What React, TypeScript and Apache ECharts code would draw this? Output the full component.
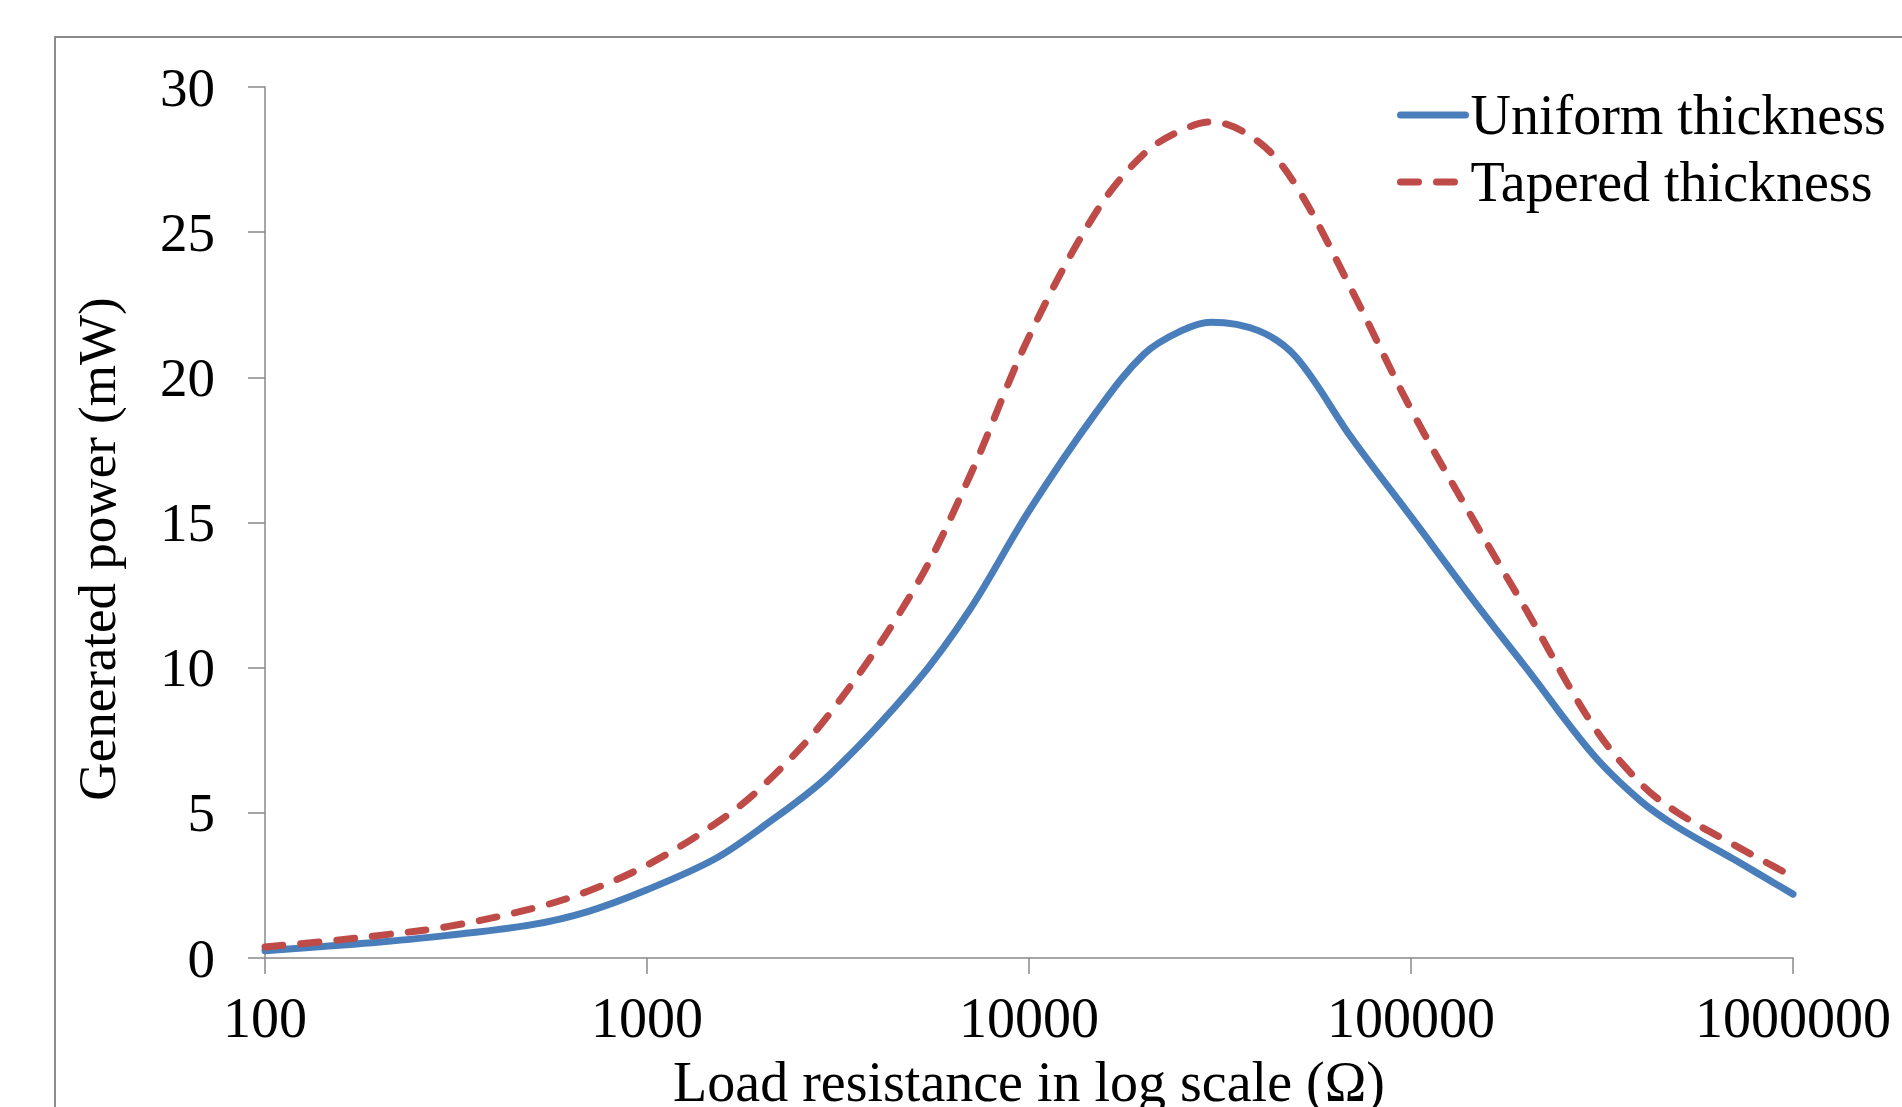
import React, { useEffect, useRef } from "react";
import * as echarts from "echarts";

// Load resistance (Ω)
const resistance = [
  100, 150, 200, 300, 500, 700, 1000, 1500, 2000, 3000, 5000, 7000, 10000, 15000,
  20000, 25000, 30000, 40000, 50000, 70000, 100000, 150000, 200000, 300000, 400000,
  500000, 700000, 1000000,
];
// Generated power (mW)
const uniformPower = [
  0.25, 0.42, 0.55, 0.78, 1.15, 1.6, 2.35, 3.4, 4.5, 6.3, 9.4, 12.0, 15.4, 18.8,
  20.8, 21.6, 21.9, 21.6, 20.7, 17.9, 15.2, 12.1, 10.0, 7.0, 5.4, 4.5, 3.4, 2.2,
];
const taperedPower = [
  0.38, 0.6, 0.78, 1.08, 1.7, 2.3, 3.2, 4.6, 5.9, 8.4, 12.7, 16.6, 21.4, 25.7,
  27.7, 28.5, 28.8, 28.1, 26.6, 23.0, 18.9, 14.8, 12.0, 8.0, 6.0, 5.0, 3.9, 2.8,
];
const seriesNames = ["Uniform thickness", "Tapered thickness"];
const xTickLabels = ["100", "1000", "10000", "100000", "1000000"];
const xAxisTitle = "Load resistance in log scale (Ω)";
const yAxisTitle = "Generated power (mW)";

const FONT = "'Liberation Serif', 'Times New Roman', serif";
const AXIS_COLOR = "#898989";

export default function App() {
  const ref = useRef<HTMLDivElement>(null);

  useEffect(() => {
    document.body.style.margin = "0";
    document.body.style.overflow = "hidden";
    if (!ref.current) return;
    const chart = echarts.init(ref.current, undefined, { renderer: "svg" });
    const option: any = {
      animation: false,
      backgroundColor: "#ffffff",
      textStyle: { fontFamily: FONT },
      grid: {
        left: 265,
        right: 109,
        top: 87,
        bottom: 149,
        containLabel: false,
        outerBoundsMode: "none",
      },
      legend: {
        orient: "vertical",
        left: 1397,
        top: 87,
        padding: 0,
        itemWidth: 65,
        itemHeight: 14,
        itemGap: 11,
        itemStyle: { opacity: 0 },
        lineStyle: { width: 7, cap: "round" },
        textStyle: { fontFamily: FONT, fontSize: 56, color: "#000", lineHeight: 56 },
        data: seriesNames,
      },
      xAxis: {
        type: "log",
        logBase: 10,
        min: 100,
        max: 1000000,
        name: xAxisTitle,
        nameLocation: "middle",
        nameGap: 96,
        nameTextStyle: { fontFamily: FONT, fontSize: 56, color: "#000" },
        axisLine: { show: true, lineStyle: { color: AXIS_COLOR, width: 1.5 } },
        axisTick: { show: true, length: 16, lineStyle: { color: AXIS_COLOR, width: 1.5 } },
        axisLabel: {
          margin: 32,
          fontFamily: FONT,
          fontSize: 56,
          color: "#000",
          formatter: (v: number) => {
            const r = Math.round(v);
            const found = xTickLabels.find((l) => Number(l) === r);
            return found !== undefined ? found : String(r);
          },
        },
        splitLine: { show: false },
        minorTick: { show: false },
      },
      yAxis: {
        type: "value",
        min: 0,
        max: 30,
        interval: 5,
        axisLine: { show: true, lineStyle: { color: AXIS_COLOR, width: 1.5 } },
        axisTick: { show: true, length: 17, lineStyle: { color: AXIS_COLOR, width: 1.5 } },
        axisLabel: { margin: 50, fontFamily: FONT, fontSize: 55, color: "#000" },
        splitLine: { show: false },
      },
      graphic: [
        {
          type: "rect",
          silent: true,
          z: -10,
          shape: { x: 55, y: 37, width: 1900, height: 1200 },
          style: { fill: "none", stroke: "#8c8c8c", lineWidth: 2 },
        },
        {
          type: "text",
          silent: true,
          x: 97,
          y: 549,
          rotation: Math.PI / 2,
          style: {
            text: yAxisTitle,
            font: `53px ${FONT}`,
            fill: "#000",
            textAlign: "center",
            textVerticalAlign: "middle",
          },
        },
      ],
      series: [
        {
          name: seriesNames[0],
          type: "line",
          smooth: 0.35,
          symbol: "none",
          showSymbol: false,
          lineStyle: { color: "#4A7EBB", width: 7, cap: "round", join: "round" },
          itemStyle: { color: "#4A7EBB" },
          data: resistance.map((r, i) => [r, uniformPower[i]]),
        },
        {
          name: seriesNames[1],
          type: "line",
          smooth: 0.35,
          symbol: "none",
          showSymbol: false,
          lineStyle: {
            color: "#BE4B48",
            width: 7,
            type: [18, 18],
            cap: "round",
            join: "round",
          },
          itemStyle: { color: "#BE4B48" },
          data: resistance.map((r, i) => [r, taperedPower[i]]),
        },
      ],
    };
    chart.setOption(option);
    return () => chart.dispose();
  }, []);

  return (
    <div
      ref={ref}
      style={{ position: "absolute", left: 0, top: 0, width: 1902, height: 1107 }}
    />
  );
}
